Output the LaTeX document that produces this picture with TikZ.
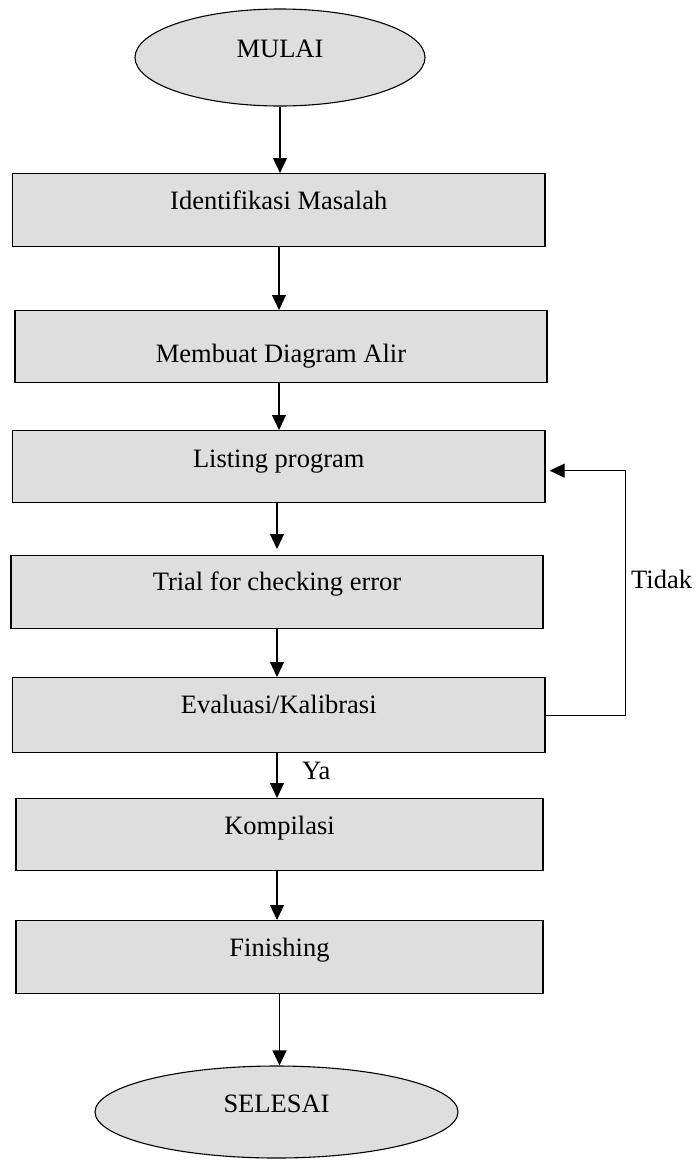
\documentclass[tikz,border=0pt]{standalone}
\usepackage{fontspec}
\setmainfont{Liberation Serif}
\usetikzlibrary{arrows.meta,shapes.geometric}
\definecolor{boxgray}{HTML}{DEDEDE}
\begin{document}
\begin{tikzpicture}[x=1pt,y=-1pt,
  font=\fontsize{26.5}{30}\selectfont,
  stepbox/.style={draw=black,line width=1.3pt,fill=boxgray,rectangle,
    inner sep=0pt,anchor=north},
  terminal/.style={draw=black,line width=1.1pt,fill=boxgray,ellipse,
    inner sep=0pt,text height=0pt,text depth=0pt},
  flow/.style={line width=1.2pt,-{Triangle[length=15pt,width=14pt]}},
  plain/.style={line width=1.2pt}]
\useasboundingbox (0,0) rectangle (696,1160);

% start / end terminals
\node[terminal,minimum width=290pt,minimum height=97pt] (mulai) at (280,57.5) {MULAI};
\node[terminal,minimum width=363pt,minimum height=92pt] (selesai) at (276.5,1112) {SELESAI};

% process steps
\node[stepbox,minimum width=532.5pt,text height=36pt,text depth=37pt] (ident) at (278.75,173) {Identifikasi Masalah};
\node[stepbox,minimum width=532pt,text height=52pt,text depth=20pt] (diagram) at (281,310) {Membuat Diagram Alir};
\node[stepbox,minimum width=532.5pt,text height=37pt,text depth=35pt] (listing) at (278.75,430) {Listing program};
\node[stepbox,minimum width=532pt,text height=35pt,text depth=38pt] (trial) at (277,555) {Trial for checking error};
\node[stepbox,minimum width=532.5pt,text height=36pt,text depth=39pt] (eval) at (278.75,677) {Evaluasi/Kalibrasi};
\node[stepbox,minimum width=527pt,text height=36pt,text depth=36pt] (kompilasi) at (279.5,798) {Kompilasi};
\node[stepbox,minimum width=527pt,text height=36pt,text depth=37pt] (finishing) at (279.5,920) {Finishing};

% branch labels
\node[anchor=base west,inner sep=0pt] (ya) at (302,779) {Ya};
\node[anchor=base west,inner sep=0pt] (tidak) at (631,588) {Tidak};

% main flow
\draw[flow] (mulai.south) -- (mulai.south |- ident.north);
\draw[flow] ([xshift=0.25pt]ident.south) -- ([xshift=0.25pt]ident.south |- diagram.north);
\draw[flow] ([xshift=-2pt]diagram.south) -- ([xshift=-2pt]diagram.south |- listing.north);
\draw[flow,shorten >=6pt] ([xshift=-1.75pt]listing.south) -- ([xshift=-1.75pt]listing.south |- trial.north);
\draw[flow] (trial.south) -- (trial.south |- eval.north);
\draw[flow] ([xshift=-1.75pt]eval.south) -- ([xshift=-1.75pt]eval.south |- kompilasi.north);
\draw[flow] ([xshift=-2.5pt]kompilasi.south) -- ([xshift=-2.5pt]kompilasi.south |- finishing.north);
\draw[flow] (finishing.south) -- (finishing.south |- selesai.north);

% loop back when evaluation fails
\draw[flow] (eval.east) -- ++(80,0) coordinate (turn)
  |- ([xshift=4pt,yshift=-4pt]listing.east);
\end{tikzpicture}
\end{document}
